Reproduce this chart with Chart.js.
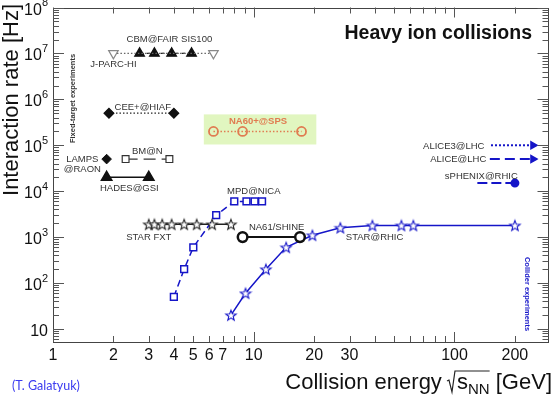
<!DOCTYPE html>
<html>
<head>
<meta charset="utf-8">
<script src="https://cdn.jsdelivr.net/npm/chart.js@4.4.1/dist/chart.umd.min.js"></script>
<style>
  body { margin: 0; background: #fff; }
  #wrap { width: 556px; height: 397px; }
</style>
</head>
<body>
<div id="wrap"><canvas id="rate"></canvas></div>
<script>
// energies in GeV, rates in Hz
const jparcEnergy = [2.0, 6.3];
const jparcRate = [1e7, 1e7];
const cbmEnergy = [2.7, 3.2, 3.9, 4.9];
const cbmRate = [1e7, 1e7, 1e7, 1e7];
const ceeEnergy = [1.9, 4.0];
const ceeRate = [5e5, 5e5];
const na60Energy = [6.3, 8.8, 17.3];
const na60Rate = [2e5, 2e5, 2e5];
const bmnEnergy = [2.3, 3.8];
const bmnRate = [5e4, 5e4];
const lampsEnergy = [1.85];
const lampsRate = [5e4];
const hadesEnergy = [1.85, 3.0];
const hadesRate = [2e4, 2e4];
const starFxtEnergy = [3.0, 3.2, 3.5, 3.9, 4.5, 5.2, 6.2, 7.7];
const starFxtRate = [1.9e3, 1.9e3, 1.9e3, 1.9e3, 1.9e3, 1.9e3, 1.9e3, 1.9e3];
const mpdEnergy = [4.0, 4.5, 5.0, 6.5, 8.0, 9.2, 10.1, 11.0];
const mpdRate = [50, 200, 600, 3000, 6000, 6000, 6000, 6000];
const na61Energy = [8.8, 17.0];
const na61Rate = [1e3, 1e3];
const starRhicEnergy = [7.7, 9.1, 11.5, 14.5, 19.6, 27, 39, 54.4, 62.4, 200];
const starRhicRate = [20, 60, 200, 600, 1100, 1600, 1800, 1800, 1800, 1800];
const alice3Energy = [152, 246];
const alice3Rate = [1e5, 1e5];
const aliceEnergy = [150, 246];
const aliceRate = [5e4, 5e4];
const sphenixEnergy = [130, 200];
const sphenixRate = [1.5e4, 1.5e4];

const xTickLabels = [1, 2, 3, 4, 5, 6, 7, 10, 20, 30, 100, 200];
const yTickValues = [10, 1e2, 1e3, 1e4, 1e5, 1e6, 1e7, 1e8];

const blue = '#1515c8';
const orange = '#e07b50';
const ink = '#333';

function pts(xs, ys) {
  return xs.map((x, i) => ({ x: x, y: ys[i] }));
}

// open 5 point star marker
function starImage(color) {
  const c = document.createElement('canvas');
  c.width = 14; c.height = 14;
  const g = c.getContext('2d');
  g.beginPath();
  for (let i = 0; i < 10; i++) {
    const r = i % 2 ? 2.3 : 5.5;
    const a = -Math.PI / 2 + i * Math.PI / 5;
    g.lineTo(7 + r * Math.cos(a), 7.6 + r * Math.sin(a));
  }
  g.closePath();
  g.fillStyle = '#fff';
  g.fill();
  g.strokeStyle = color;
  g.lineWidth = 1.1;
  g.stroke();
  return c;
}

// text placed next to the marks (energy, rate anchors)
const notes = [
  { t: 'CBM@FAIR SIS100', e: 3.8, r: 2.0e7 },
  { t: 'J-PARC-HI', e: 2.0, r: 5.8e6 },
  { t: 'CEE+@HIAF', e: 2.8, r: 6.6e5 },
  { t: 'NA60+@SPS', e: 10.5, r: 3.3e5, c: orange, bold: true },
  { t: 'BM@N', e: 2.95, r: 7.5e4 },
  { t: 'LAMPS', e: 1.40, r: 4.9e4 },
  { t: '@RAON', e: 1.40, r: 2.96e4 },
  { t: 'HADES@GSI', e: 2.40, r: 1.18e4 },
  { t: 'MPD@NICA', e: 10.0, r: 1.0e4 },
  { t: 'STAR FXT', e: 3.0, r: 1.0e3 },
  { t: 'NA61/SHINE', e: 13.0, r: 1.59e3 },
  { t: 'STAR@RHIC', e: 40, r: 1.0e3 },
  { t: 'ALICE3@LHC', e: 141, r: 9.7e4, a: 'right' },
  { t: 'ALICE@LHC', e: 144, r: 4.9e4, a: 'right' },
  { t: 'sPHENIX@RHIC', e: 136, r: 2.15e4 }
];
const na60Box = { e0: 5.64, e1: 20.5, r0: 1.04e5, r1: 4.7e5 };

const decor = {
  id: 'decor',
  beforeDatasetsDraw(chart) {
    const { ctx, scales: { x, y } } = chart;
    ctx.save();
    ctx.fillStyle = '#e1f6c0';
    const x0 = x.getPixelForValue(na60Box.e0), x1 = x.getPixelForValue(na60Box.e1);
    const y0 = y.getPixelForValue(na60Box.r1), y1 = y.getPixelForValue(na60Box.r0);
    ctx.fillRect(x0, y0, x1 - x0, y1 - y0);
    ctx.restore();
  },
  afterDatasetsDraw(chart) {
    const { ctx, scales: { x, y } } = chart;
    ctx.save();
    ctx.textBaseline = 'middle';
    notes.forEach(n => {
      ctx.font = (n.bold ? 'bold ' : '') + '9.5px "Liberation Sans", Arial, sans-serif';
      ctx.fillStyle = n.c || ink;
      ctx.textAlign = n.a || 'center';
      ctx.fillText(n.t, x.getPixelForValue(n.e), y.getPixelForValue(n.r));
    });
    ctx.restore();
  },
  afterDraw(chart) {
    const { ctx, chartArea: a, scales: { x, y } } = chart;
    ctx.save();
    // frame
    ctx.strokeStyle = '#444';
    ctx.lineWidth = 1;
    ctx.strokeRect(Math.round(a.left) + 0.5, Math.round(a.top) + 0.5,
      Math.round(a.right - a.left) - 1, Math.round(a.bottom - a.top) - 1);

    // inward ticks on all four sides
    ctx.strokeStyle = '#555';
    ctx.beginPath();
    for (let d = 1; d <= 1000; d *= 10) {
      for (let m = 1; m <= 9; m++) {
        const v = m * d;
        if (v < x.min || v > x.max) continue;
        const px = Math.round(x.getPixelForValue(v)) + 0.5;
        const len = m === 1 ? 10 : 6;
        ctx.moveTo(px, a.bottom); ctx.lineTo(px, a.bottom - len);
        ctx.moveTo(px, a.top); ctx.lineTo(px, a.top + len);
      }
    }
    for (let d = 1; d <= 1e8; d *= 10) {
      for (let m = 1; m <= 9; m++) {
        const v = m * d;
        if (v < y.min || v > y.max) continue;
        const py = Math.round(y.getPixelForValue(v)) + 0.5;
        const len = m === 1 ? 11 : 6;
        ctx.moveTo(a.left, py); ctx.lineTo(a.left + len, py);
        ctx.moveTo(a.right, py); ctx.lineTo(a.right - len, py);
      }
    }
    ctx.stroke();

    // y tick labels 10^n
    ctx.fillStyle = '#111';
    ctx.textBaseline = 'alphabetic';
    yTickValues.forEach(v => {
      const exp = Math.round(Math.log10(v));
      const py = y.getPixelForValue(v);
      ctx.font = '16px "Liberation Sans", Arial, sans-serif';
      const wb = ctx.measureText('10').width;
      ctx.font = '11px "Liberation Sans", Arial, sans-serif';
      const we = exp > 1 ? ctx.measureText(String(exp)).width : 0;
      const right = a.left - 5;
      ctx.font = '16px "Liberation Sans", Arial, sans-serif';
      ctx.textAlign = 'left';
      ctx.fillText('10', right - wb - we, py + 7);
      if (exp > 1) {
        ctx.font = '11px "Liberation Sans", Arial, sans-serif';
        ctx.fillText(String(exp), right - we, py - 1.5);
      }
    });

    // axis titles
    ctx.fillStyle = '#111';
    ctx.font = '22px "Liberation Sans", Arial, sans-serif';
    ctx.save();
    ctx.translate(18, 4);
    ctx.rotate(-Math.PI / 2);
    ctx.textAlign = 'right';
    ctx.fillText('Interaction rate [Hz]', 0, 0);
    ctx.restore();

    const base = 389;
    ctx.textAlign = 'left';
    ctx.font = '22px "Liberation Sans", Arial, sans-serif';
    const t1 = 'Collision energy ', t3 = ' [GeV]';
    const w1 = ctx.measureText(t1).width;
    const ws = ctx.measureText('s').width;
    const w3 = ctx.measureText(t3).width;
    ctx.font = '15px "Liberation Sans", Arial, sans-serif';
    const wn = ctx.measureText('NN').width;
    const rad = 9;
    let sx = 552 - (w1 + rad + ws + wn + w3);
    ctx.font = '22px "Liberation Sans", Arial, sans-serif';
    ctx.fillText(t1, sx, base);
    const rx = sx + w1 - 1;
    ctx.strokeStyle = '#222';
    ctx.lineWidth = 1.2;
    ctx.beginPath();
    ctx.moveTo(rx, base - 8);
    ctx.lineTo(rx + 2, base - 9);
    ctx.lineTo(rx + 5, base + 3);
    ctx.lineTo(rx + 8, base - 18);
    ctx.lineTo(rx + rad + ws + wn + 1, base - 18);
    ctx.stroke();
    ctx.fillText('s', sx + w1 + rad, base);
    ctx.font = '15px "Liberation Sans", Arial, sans-serif';
    ctx.fillText('NN', sx + w1 + rad + ws, base + 5);
    ctx.font = '22px "Liberation Sans", Arial, sans-serif';
    ctx.fillText(t3, sx + w1 + rad + ws + wn, base);

    // plot title
    ctx.font = 'bold 19.5px "Liberation Sans", Arial, sans-serif';
    ctx.textAlign = 'right';
    ctx.textBaseline = 'middle';
    ctx.fillText('Heavy ion collisions', 532, 34);

    // side notes
    ctx.font = 'bold 7.5px "Liberation Sans", Arial, sans-serif';
    ctx.textAlign = 'center';
    ctx.save();
    ctx.translate(73, 98.5);
    ctx.rotate(-Math.PI / 2);
    ctx.fillStyle = ink;
    ctx.fillText('Fixed-target experiments', 0, 0);
    ctx.restore();
    ctx.save();
    ctx.translate(527, 294);
    ctx.rotate(Math.PI / 2);
    ctx.fillStyle = blue;
    ctx.fillText('Collider experiments', 0, 0);
    ctx.restore();

    // credit
    ctx.font = '12.5px Lato, "Open Sans", sans-serif';
    ctx.fillStyle = '#3a3af0';
    ctx.textAlign = 'left';
    ctx.fillText('(T. Galatyuk)', 12, 386);
    ctx.restore();
  }
};

const ctx = document.getElementById('rate');
new Chart(ctx, {
  type: 'line',
  data: {
    datasets: [
      { label: 'J-PARC-HI', data: pts(jparcEnergy, jparcRate), borderColor: '#666', borderWidth: 1.3, borderDash: [1.5, 2],
        pointStyle: 'triangle', pointRotation: 180, pointRadius: 5.5, pointBorderColor: '#888', pointBackgroundColor: '#fff', pointBorderWidth: 1.2 },
      { label: 'CBM@FAIR SIS100', data: pts(cbmEnergy, cbmRate), borderColor: '#222', borderWidth: 1.3, borderDash: [4, 3],
        pointStyle: 'triangle', pointRadius: 5.5, pointBorderColor: '#111', pointBackgroundColor: '#111' },
      { label: 'CEE+@HIAF', data: pts(ceeEnergy, ceeRate), borderColor: '#222', borderWidth: 1.3, borderDash: [1.5, 2],
        pointStyle: 'rectRot', pointRadius: 4.8, pointBorderColor: '#111', pointBackgroundColor: '#111' },
      { label: 'NA60+@SPS', data: pts(na60Energy, na60Rate), borderColor: orange, borderWidth: 1.5, borderDash: [1.5, 2],
        pointStyle: 'circle', pointRadius: 4.5, pointBorderColor: orange, pointBackgroundColor: 'rgba(0,0,0,0)', pointBorderWidth: 1.8 },
      { label: 'BM@N', data: pts(bmnEnergy, bmnRate), borderColor: '#333', borderWidth: 1.3, borderDash: [12, 6],
        pointStyle: 'rect', pointRadius: 4.8, pointBorderColor: '#333', pointBackgroundColor: '#fff', pointBorderWidth: 1.2 },
      { label: 'LAMPS@RAON', data: pts(lampsEnergy, lampsRate), borderColor: '#111',
        pointStyle: 'rectRot', pointRadius: 4.8, pointBorderColor: '#111', pointBackgroundColor: '#111' },
      { label: 'HADES@GSI', data: pts(hadesEnergy, hadesRate), borderColor: '#111', borderWidth: 1.5,
        pointStyle: 'triangle', pointRadius: 6, pointBorderColor: '#111', pointBackgroundColor: '#111' },
      { label: 'STAR FXT', data: pts(starFxtEnergy, starFxtRate), borderColor: '#222', borderWidth: 1.5,
        pointStyle: starImage('#222') },
      { label: 'MPD@NICA', data: pts(mpdEnergy, mpdRate), borderColor: blue, borderWidth: 1.5, borderDash: [7, 4],
        pointStyle: 'rect', pointRadius: 4.8, pointBorderColor: blue, pointBackgroundColor: '#fff', pointBorderWidth: 1.5 },
      { label: 'NA61/SHINE', data: pts(na61Energy, na61Rate), borderColor: '#111', borderWidth: 2,
        pointStyle: 'circle', pointRadius: 4.8, pointBorderColor: '#111', pointBackgroundColor: '#fff', pointBorderWidth: 2.5 },
      { label: 'STAR@RHIC', data: pts(starRhicEnergy, starRhicRate), borderColor: blue, borderWidth: 1.5,
        pointStyle: starImage(blue) },
      { label: 'ALICE3@LHC', data: pts(alice3Energy, alice3Rate), borderColor: blue, borderWidth: 2, borderDash: [2, 2],
        pointStyle: 'triangle', pointRotation: 90, pointRadius: [0, 3.5], pointBorderColor: blue, pointBackgroundColor: blue },
      { label: 'ALICE@LHC', data: pts(aliceEnergy, aliceRate), borderColor: blue, borderWidth: 2, borderDash: [10, 5],
        pointStyle: 'triangle', pointRotation: 90, pointRadius: [0, 3.5], pointBorderColor: blue, pointBackgroundColor: blue },
      { label: 'sPHENIX@RHIC', data: pts(sphenixEnergy, sphenixRate), borderColor: blue, borderWidth: 2, borderDash: [10, 4],
        pointStyle: 'circle', pointRadius: [0, 3.5], pointBorderColor: blue, pointBackgroundColor: blue }
    ]
  },
  options: {
    responsive: true,
    maintainAspectRatio: false,
    animation: false,
    events: [],
    layout: { padding: { top: 7, right: 6, left: 0, bottom: 0 } },
    plugins: { legend: { display: false }, tooltip: { enabled: false } },
    elements: { line: { tension: 0 } },
    scales: {
      x: {
        type: 'logarithmic',
        min: 1,
        max: 294,
        grid: { display: false, drawTicks: false },
        border: { display: false },
        ticks: {
          autoSkip: false,
          maxRotation: 0,
          padding: 4,
          color: '#111',
          font: { family: '"Liberation Sans", Arial, sans-serif', size: 16 },
          callback: function (v) {
            const hit = xTickLabels.find(l => Math.abs(v - l) / l < 1e-6);
            return hit ? String(hit) : '';
          }
        },
        afterFit: function (s) { s.height = 55; s.paddingLeft = 0; s.paddingRight = 0; }
      },
      y: {
        type: 'logarithmic',
        min: 5.2,
        max: 1e8,
        grid: { display: false, drawTicks: false },
        border: { display: false },
        ticks: { display: false },
        afterFit: function (s) { s.width = 53; s.paddingTop = 0; s.paddingBottom = 0; }
      }
    }
  },
  plugins: [decor]
});
</script>
</body>
</html>
